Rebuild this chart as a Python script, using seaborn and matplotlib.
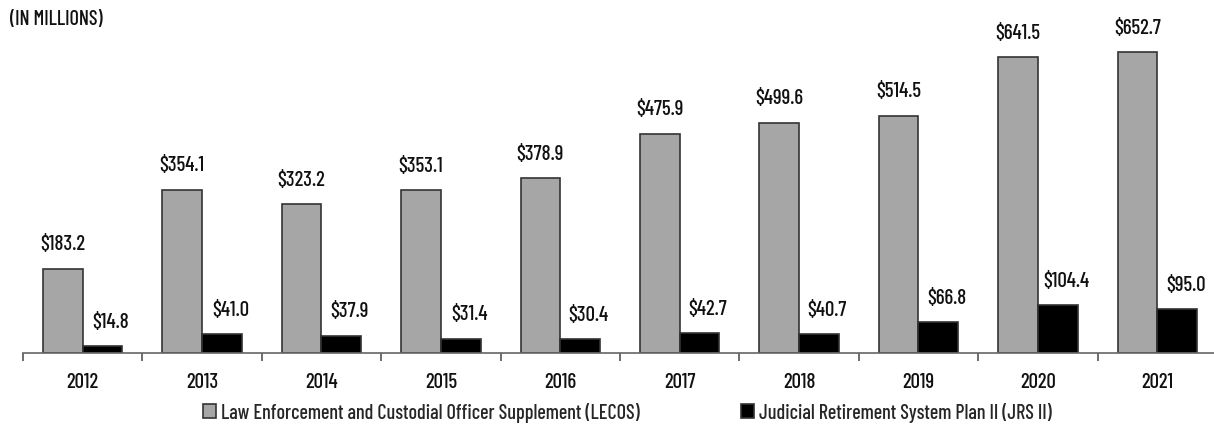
import numpy as np
import pandas as pd
import seaborn as sns
import matplotlib.pyplot as plt

# 데이터
years = ["2012", "2013", "2014", "2015", "2016", "2017", "2018", "2019", "2020", "2021"]
lecos = [183.2, 354.1, 323.2, 353.1, 378.9, 475.9, 499.6, 514.5, 641.5, 652.7]
jrs = [14.8, 41.0, 37.9, 31.4, 30.4, 42.7, 40.7, 66.8, 104.4, 95.0]
series_names = ["Law Enforcement and Custodial Officer Supplement (LECOS)",
                "Judicial Retirement System Plan II (JRS II)"]

df = pd.DataFrame({
    "Year": years * 2,
    "Value": lecos + jrs,
    "Plan": [series_names[0]] * len(years) + [series_names[1]] * len(years),
})

sns.set_style("white")
plt.rcParams['font.family'] = ['Barlow Condensed', 'DejaVu Sans']
plt.rcParams['font.weight'] = 500

fig = plt.figure(figsize=(12.14, 4.27), dpi=100)
ax = fig.add_axes([23 / 1214, 73 / 427, 1194 / 1214, 354 / 427])

sns.barplot(data=df, x="Year", y="Value", hue="Plan", order=years, hue_order=series_names,
            palette=["#a6a6a6", "#000000"], width=2 / 3, gap=0, edgecolor="#333333",
            linewidth=1.2, saturation=1, ax=ax, legend=True)

ax.set_xlim(-0.5, 9.5)
ax.set_ylim(0, 767.6)

# 값 라벨
for i, cont in enumerate(ax.containers):
    dx = 0 if i == 0 else 6
    for bar, v in zip(cont, [lecos, jrs][i]):
        ax.annotate(f"${v:.1f}", (bar.get_x() + bar.get_width() / 2, bar.get_height()),
                    xytext=(dx, 11), textcoords="offset points", ha="center", va="bottom",
                    fontsize=15, color="#111111")

# 축 스타일
for s in ["top", "right", "left"]:
    ax.spines[s].set_visible(False)
ax.spines["bottom"].set_color("#666666")
ax.spines["bottom"].set_linewidth(1.2)
ax.set_yticks([])
ax.set_xlabel("")
ax.set_ylabel("")
ax.set_xticks(np.arange(len(years)))
ax.set_xticklabels(years, fontsize=15, color="#111111")
ax.set_xticks(np.arange(len(years) + 1) - 0.5, minor=True)
ax.tick_params(axis="x", which="major", length=0, pad=14)
ax.tick_params(axis="x", which="minor", length=6, width=1.2, color="#555555", direction="out",
               bottom=True)

# 범례
handles, labels = ax.get_legend_handles_labels()
ax.get_legend().remove()
fig.legend(handles, labels, loc="center left", bbox_to_anchor=(203 / 1214, 1 - 413 / 427), ncol=2,
           frameon=False, fontsize=14.5, handlelength=0.65, handleheight=0.65, handletextpad=0.25,
           columnspacing=5.0, borderpad=0, borderaxespad=0)

fig.text(10 / 1214, 1 - 10 / 427, "(IN MILLIONS)", ha="left", va="top", fontsize=14.5, color="#111111")

fig.savefig("out.png", dpi=100)
